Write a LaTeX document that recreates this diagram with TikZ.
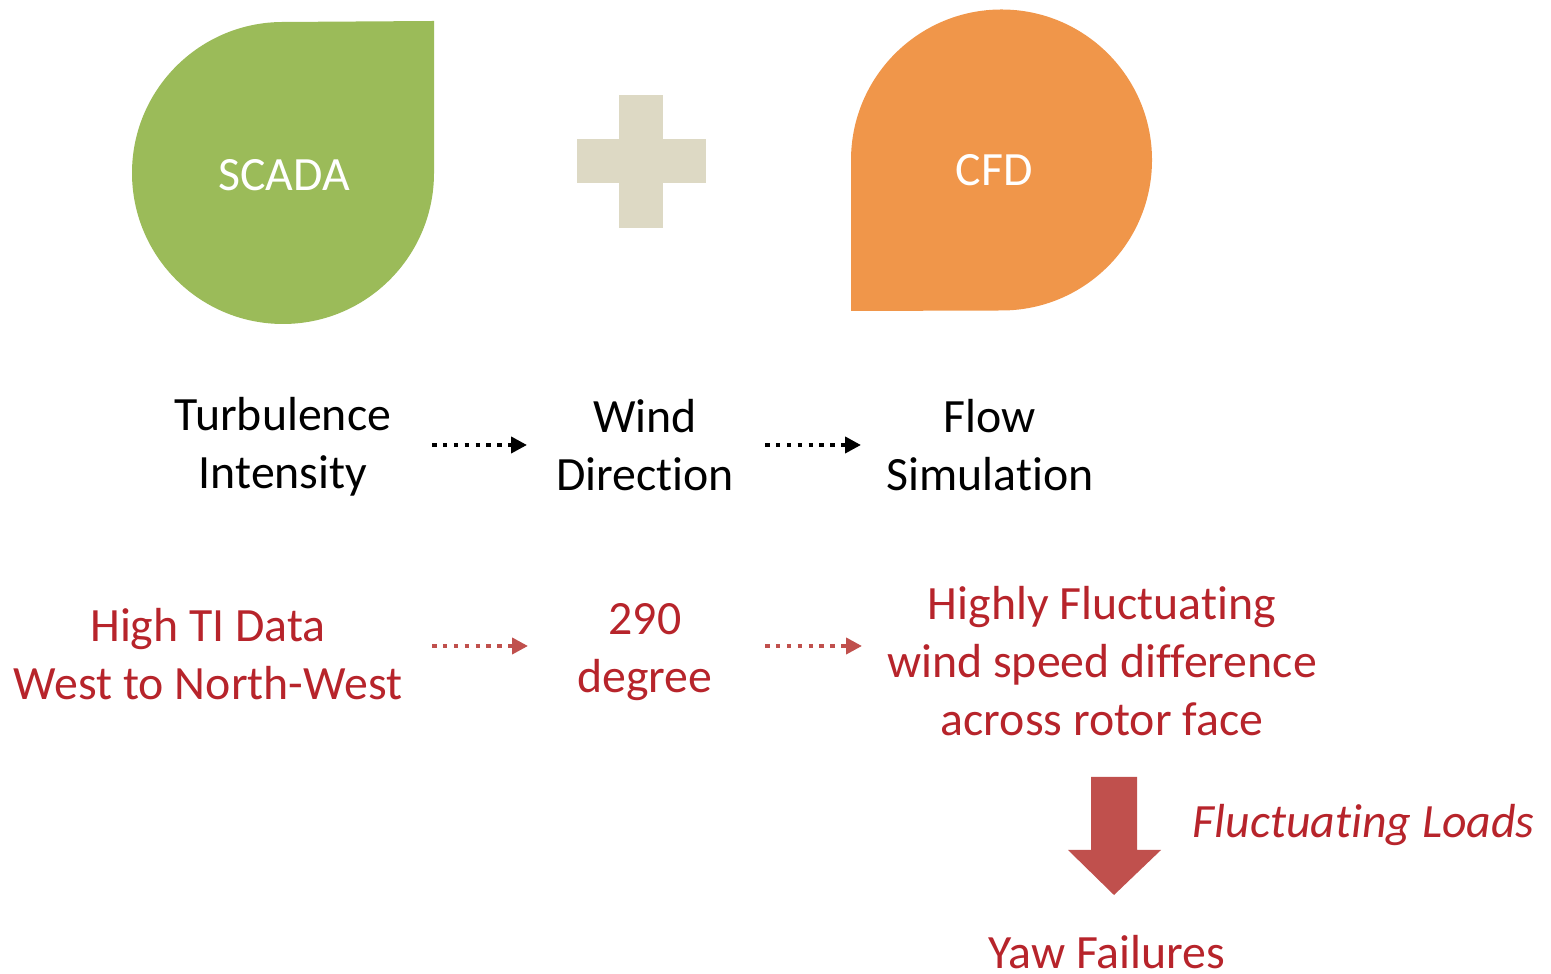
\documentclass[tikz,border=0pt]{standalone}
\usepackage{fontspec}
\setmainfont{Carlito}[Ligatures=NoCommon]
\usetikzlibrary{arrows.meta}
\definecolor{scadagreen}{RGB}{155,187,89}
\definecolor{cfdorange}{RGB}{240,150,74}
\definecolor{plusbeige}{RGB}{221,217,196}
\definecolor{darkred}{RGB}{183,36,43}
\definecolor{arrowred}{RGB}{192,80,77}
\tikzset{
  txt/.style={align=center, inner sep=0pt, font=\fontsize{13.6}{16.5}\selectfont},
  redtxt/.style={txt, text=darkred},
  dotarrow/.style={line width=1.1pt, dash pattern=on 1.3pt off 1.8pt, -{Triangle[length=4.5pt, width=4.5pt]}},
}
\begin{document}
\begin{tikzpicture}
\useasboundingbox (0,0) rectangle (15.51,-9.74);

% drops
\fill[scadagreen](4.34,-0.21)--(4.34,-1.73)arc[start angle=0, end angle=-270, radius=1.51]--cycle;
\fill[cfdorange](8.51,-3.11)--(8.51,-1.60)arc[start angle=180, end angle=-90, radius=1.505]--cycle;
\node[txt, text=white] (scada) at (2.84,-1.75){SCADA};
\node[txt, text=white] (cfd) at (9.94,-1.70){CFD};

% plus
\fill[plusbeige](5.77,-1.39) rectangle (7.06,-1.83);
\fill[plusbeige](6.19,-0.95) rectangle (6.63,-2.28);

% black row
\node[txt] (ti) at (2.83,-4.47){Turbulence\\Intensity};
\node[txt] (wd) at (6.45,-4.45){Wind\\Direction};
\node[txt] (fs) at (9.90,-4.45){Flow\\Simulation};
\coordinate (b1s) at (4.32,-4.45);
\coordinate (b1e) at (5.27,-4.45);
\coordinate (b2s) at (7.65,-4.45);
\coordinate (b2e) at (8.61,-4.45);
\draw[dotarrow](b1s)--(b1e);
\draw[dotarrow](b2s)--(b2e);

% red row
\node[redtxt] (hti) at (2.08,-6.54){High TI Data\\West to North-West};
\node[redtxt] (deg) at (6.45,-6.52){290\\degree};
\node[redtxt] (hf) at (11.02,-6.61){Highly Fluctuating\\wind speed difference\\across rotor face};
\coordinate (r1s) at (4.32,-6.46);
\coordinate (r1e) at (5.28,-6.46);
\coordinate (r2s) at (7.65,-6.46);
\coordinate (r2e) at (8.62,-6.46);
\draw[dotarrow, arrowred](r1s)--(r1e);
\draw[dotarrow, arrowred](r2s)--(r2e);

% block arrow
\fill[arrowred](10.91,-7.77)--(11.37,-7.77)--(11.37,-8.50)--(11.61,-8.50)--(11.14,-8.95)
  --(10.68,-8.50)--(10.91,-8.50)--cycle;
\node[redtxt, font=\fontsize{13.6}{16.5}\selectfont\itshape, anchor=west] (fl) at (11.92,-8.25){Fluctuating Loads};
\node[redtxt] (yaw) at (11.07,-9.52){Yaw Failures};

\end{tikzpicture}
\end{document}
